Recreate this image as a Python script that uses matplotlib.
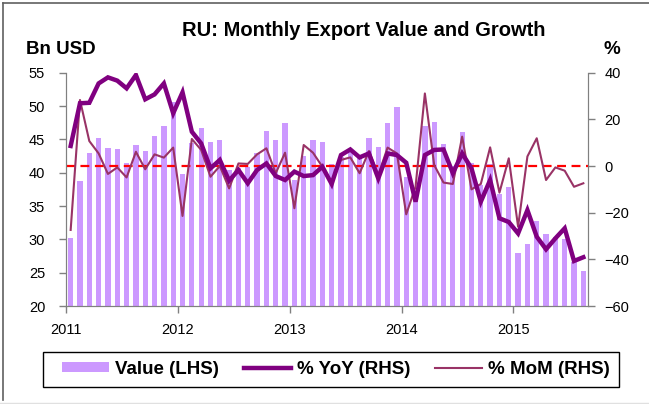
import matplotlib
matplotlib.use('Agg')
import matplotlib.pyplot as plt
from matplotlib.lines import Line2D
from matplotlib.patches import Rectangle
import numpy as np

plt.rcParams['font.family'] = ['Liberation Sans', 'DejaVu Sans']

# monthly data, Jan 2011 - Aug 2015
value = [30.2, 38.75, 42.9, 45.2, 43.65, 43.5, 41.4, 44.1, 43.3, 45.5, 47.0, 50.65,
         39.8, 44.4, 46.75, 44.55, 44.85, 40.4, 40.7, 40.8, 42.9, 46.25, 44.9, 47.5,
         38.9, 42.5, 44.9, 44.6, 41.3, 42.3, 43.5, 42.2, 45.2, 43.9, 47.4, 49.9,
         39.4, 36.0, 47.05, 47.6, 44.3, 41.0, 46.1, 41.4, 38.2, 41.3, 36.75, 37.9,
         28.0, 29.3, 32.75, 30.8, 30.4, 30.0, 26.65, 25.3]
yoy = [8.6, 26.9, 27.1, 35.4, 38.0, 36.6, 33.3, 39.0, 28.6, 30.7, 35.4, 22.6,
       31.6, 14.7, 9.7, -1.0, 2.6, -6.3, -1.7, -7.4, -1.7, 1.1, -4.3, -6.0,
       -2.4, -4.3, -3.9, -0.3, -7.7, 4.7, 7.1, 3.7, 5.4, -5.3, 5.4, 4.7,
       1.4, -15.3, 4.7, 6.9, 7.1, -3.1, 5.4, -1.0, -15.3, -6.0, -22.4, -24.0,
       -28.9, -18.9, -30.3, -35.7, -31.0, -26.7, -40.7, -39.1]
mom = [-27.4, 28.3, 10.7, 5.4, -3.4, -0.6, -4.9, 6.1, -1.4, 5.0, 3.6, 7.9,
       -21.4, 11.6, 6.9, -4.6, 0.0, -9.6, 1.1, 0.9, 5.0, 7.6, -3.1, 5.7,
       -18.1, 9.0, 5.7, -0.3, -7.4, 2.6, 3.7, -3.1, 6.4, -3.9, 7.9, 5.4,
       -20.7, -8.9, 31.1, 0.4, -7.1, -7.7, 12.6, -10.0, -7.7, 8.0, -11.4, 3.3,
       -26.0, 4.1, 11.9, -6.0, -0.6, -2.0, -8.9, -7.4]
years = ['2011', '2012', '2013', '2014', '2015']

x = np.arange(len(value)) + 0.5
grey = '#808080'

fig = plt.figure(figsize=(6.49, 4.04), dpi=100)
ax = fig.add_axes([66/649, 1-306/404, 522/649, 233.3/404])
ax.bar(x, value, width=0.57, color='#CC99FF', label='Value (LHS)', zorder=1)
ax.set_ylim(20, 55)
ax.set_yticks(range(20, 56, 5))
ax.set_xlim(0, len(value))
ax.set_xticks(range(0, len(value), 12))
ax.set_xticklabels(years)

ax2 = ax.twinx()
ax2.axhline(0, color='#FF0000', ls=(0, (4, 2.5)), lw=1.6, zorder=2)
ax2.plot(x, mom, color='#993366', lw=1.5, label='% MoM (RHS)', zorder=3)
ax2.plot(x, yoy, color='#800080', lw=3.2, label='% YoY (RHS)', zorder=4,
         solid_joinstyle='miter')
ax2.set_ylim(-60, 40)
ax2.set_yticks(range(-60, 41, 20))

for a in (ax, ax2):
    a.spines['top'].set_visible(False)
    for s in ('left', 'right', 'bottom'):
        a.spines[s].set_color(grey)
    a.tick_params(colors=grey, labelcolor='black', labelsize=10.5, length=5, width=1)
ax.tick_params(axis='y', pad=10)
ax.tick_params(axis='x', pad=7)
ax2.tick_params(axis='y', pad=7)
ax.set_zorder(ax2.get_zorder() - 1)
ax2.patch.set_visible(False)
ax.patch.set_visible(True)

fig.text(364/649, 1-31/404, 'RU: Monthly Export Value and Growth', ha='center', va='center',
         fontsize=14.5, fontweight='bold')
fig.text(26/649, 1-49/404, 'Bn USD', ha='left', va='center', fontsize=13.5, fontweight='bold')
fig.text(612/649, 1-49/404, '%', ha='center', va='center', fontsize=13.5, fontweight='bold')

h1, l1 = ax.get_legend_handles_labels()
h2, l2 = ax2.get_legend_handles_labels()
handles = [h1[0], h2[1], h2[0]]
labels = [l1[0], l2[1], l2[0]]
leg = fig.legend(handles, labels, loc='center', bbox_to_anchor=(336/649, 1-369.5/404),
                 ncol=3, frameon=False, handlelength=2.5, handleheight=0.45,
                 handletextpad=0.35, columnspacing=1.3, borderpad=0.4, borderaxespad=0,
                 prop={'weight': 'bold', 'size': 13.5})
# legend box
fig.add_artist(Rectangle((43/649, 1-387/404), 576/649, 35/404, transform=fig.transFigure,
                         fill=False, edgecolor='black', lw=1))

# outer frame
fig.add_artist(Line2D([3/649, 3/649], [0.01, 1-3/404], color='#606060', lw=1.2))
fig.add_artist(Line2D([3/649, 1], [1-3/404, 1-3/404], color='#606060', lw=1.2))
fig.add_artist(Line2D([0, 1], [1/404, 1/404], color='#E0E0E0', lw=1))

fig.savefig('out.png', dpi=100)
